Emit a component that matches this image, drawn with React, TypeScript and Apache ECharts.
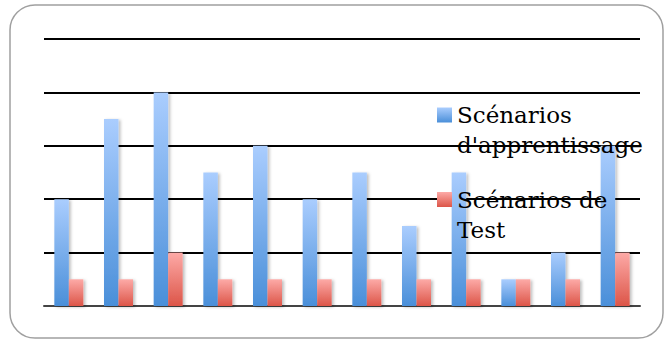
import React, { useEffect, useRef } from "react";
import * as echarts from "echarts";

const categories = ["1", "2", "3", "4", "5", "6", "7", "8", "9", "10", "11", "12"];
const apprentissage = [4, 7, 8, 5, 6, 4, 5, 3, 5, 1, 2, 6];
const test = [1, 1, 2, 1, 1, 1, 1, 1, 1, 1, 1, 2];
const seriesNames = ["Scénarios d'apprentissage", "Scénarios de Test"];
const legendLabels: Record<string, string> = {
  "Scénarios d'apprentissage": " \nScénarios\nd'apprentissage",
  "Scénarios de Test": " \nScénarios de\nTest",
};

const grad = (top: string, bottom: string) =>
  new echarts.graphic.LinearGradient(0, 0, 0, 1, [
    { offset: 0, color: top },
    { offset: 1, color: bottom },
  ]);

export default function App() {
  const ref = useRef<HTMLDivElement>(null);
  useEffect(() => {
    if (!ref.current) return;
    const chart = echarts.init(ref.current, undefined, { renderer: "svg" });
    const legendText = {
      fontFamily: "DejaVu Serif",
      fontSize: 23,
      lineHeight: 30,
      color: "#000",
    };
    const legendBase = {
      left: 437,
      itemWidth: 15,
      itemHeight: 15,
      icon: "rect",
      padding: 0,
      formatter: (n: string) => legendLabels[n],
      textStyle: legendText,
    };
    chart.setOption({
      animation: false,
      backgroundColor: "#fff",
      graphic: [
        {
          type: "rect",
          shape: { x: 10, y: 5, width: 653, height: 333, r: 25 },
          style: { fill: "none", stroke: "#a0a0a0", lineWidth: 1.5 },
          z: -1,
        },
      ],
      grid: { left: 44, right: 26, top: 39, bottom: 34 },
      legend: [
        { ...legendBase, data: [seriesNames[0]], top: 70 },
        { ...legendBase, data: [seriesNames[1]], top: 154.5 },
      ],
      xAxis: {
        type: "category",
        data: categories,
        axisLine: { lineStyle: { color: "#444", width: 2 } },
        axisTick: { show: false },
        axisLabel: { show: false },
      },
      yAxis: {
        type: "value",
        min: 0,
        max: 10,
        interval: 2,
        axisLine: { show: false },
        axisTick: { show: false },
        axisLabel: { show: false },
        splitLine: { lineStyle: { color: "#000", width: 2 } },
      },
      series: [
        {
          name: seriesNames[0],
          type: "bar",
          data: apprentissage,
          barWidth: 14.5,
          barGap: "0%",
          itemStyle: {
            color: grad("#aacdfe", "#4a8fd9"),
            shadowBlur: 3,
            shadowOffsetX: 2,
            shadowOffsetY: 1,
            shadowColor: "rgba(0,0,0,0.25)",
          },
        },
        {
          name: seriesNames[1],
          type: "bar",
          data: test,
          barWidth: 14.5,
          barGap: "0%",
          itemStyle: {
            color: grad("#fdaaa7", "#dc5548"),
            shadowBlur: 3,
            shadowOffsetX: 2,
            shadowOffsetY: 1,
            shadowColor: "rgba(0,0,0,0.25)",
          },
        },
      ],
    });
    return () => chart.dispose();
  }, []);
  return (
    <div
      ref={ref}
      style={{ position: "fixed", left: 0, top: 0, width: 666, height: 340 }}
    />
  );
}
